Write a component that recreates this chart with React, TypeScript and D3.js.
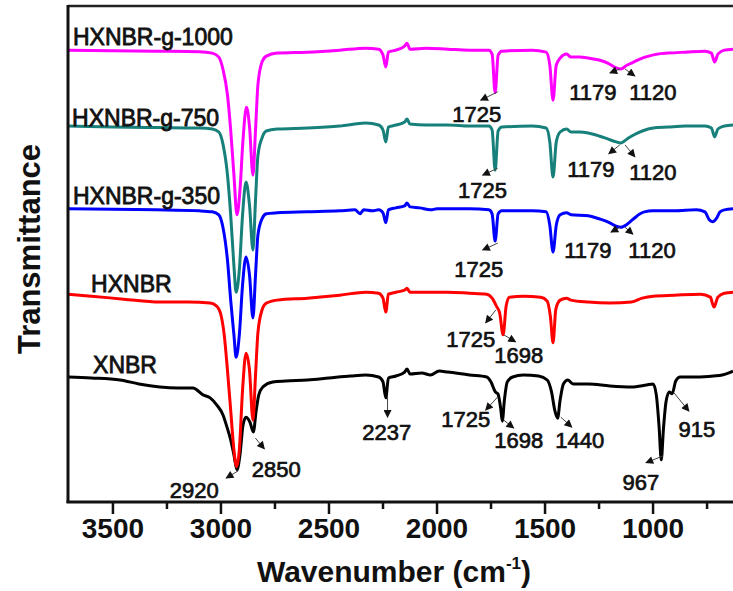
import React from 'react';
import * as d3 from 'd3';

type Pt = [number, number];

// spectra: [wavenumber (cm-1), transmittance (a.u., offset)]
const hxnbr1000: Pt[] = [
  [3708, 91.1], [3500, 91.0], [3300, 90.9], [3100, 90.8], [3040, 90.5], [3010, 89.7],
  [2990, 87.1], [2970, 82.1], [2955, 75.0], [2940, 65.9], [2926, 57.9], [2912, 62.9],
  [2898, 73.0], [2882, 79.6], [2868, 75.8], [2852, 65.9], [2840, 75.0], [2829, 84.1],
  [2810, 88.7], [2790, 89.9], [2740, 90.5], [2600, 90.7], [2450, 91.1], [2330, 91.5],
  [2270, 91.3], [2250, 90.1], [2237, 87.7], [2225, 90.7], [2190, 91.1], [2150, 91.9],
  [2139, 92.5], [2125, 91.3], [2050, 91.5], [1950, 91.3], [1850, 91.1], [1760, 91.1],
  [1745, 90.3], [1731, 82.5], [1717, 90.1], [1700, 90.9], [1560, 91.1], [1495, 90.7],
  [1478, 88.1], [1463, 81.0], [1448, 88.1], [1430, 89.5], [1400, 90.3], [1380, 89.7],
  [1340, 89.7], [1300, 89.5], [1250, 89.1], [1210, 88.5], [1170, 87.5], [1150, 87.3],
  [1120, 88.1], [1090, 88.7], [1050, 89.5], [1020, 89.9], [980, 90.3], [930, 90.5],
  [850, 90.7], [760, 90.9], [730, 90.5], [715, 88.7], [700, 90.3], [670, 91.1], [630, 91.3],
];

const hxnbr750: Pt[] = [
  [3708, 75.8], [3500, 75.6], [3300, 75.5], [3100, 75.4], [3040, 75.2], [3010, 74.6],
  [2990, 72.0], [2970, 66.0], [2955, 57.9], [2940, 47.6], [2930, 42.3], [2915, 46.8],
  [2900, 57.9], [2884, 64.5], [2868, 59.9], [2852, 50.8], [2840, 60.9], [2829, 69.8],
  [2810, 73.4], [2790, 74.8], [2740, 75.2], [2600, 75.4], [2450, 75.8], [2330, 76.4],
  [2270, 76.0], [2250, 75.0], [2237, 72.6], [2225, 75.6], [2190, 76.0], [2150, 76.6],
  [2139, 77.2], [2125, 76.2], [2050, 76.0], [1950, 76.0], [1850, 75.8], [1760, 75.8],
  [1745, 75.0], [1731, 66.9], [1717, 74.8], [1700, 75.6], [1560, 75.8], [1495, 75.4],
  [1478, 72.6], [1463, 65.5], [1448, 72.6], [1430, 74.6], [1400, 75.2], [1380, 74.6],
  [1340, 74.6], [1300, 74.4], [1250, 73.8], [1210, 73.2], [1170, 72.6], [1150, 72.4],
  [1120, 73.2], [1090, 74.0], [1050, 74.8], [1000, 75.4], [930, 75.6], [850, 75.8],
  [760, 75.8], [730, 75.4], [715, 73.6], [700, 75.2], [670, 75.8], [630, 76.0],
];

const hxnbr350: Pt[] = [
  [3708, 59.1], [3500, 59.0], [3300, 58.9], [3100, 58.7], [3040, 58.5], [3010, 57.9],
  [2990, 55.2], [2970, 48.8], [2955, 40.7], [2940, 33.7], [2930, 29.2], [2915, 33.7],
  [2900, 43.8], [2884, 49.4], [2868, 45.8], [2852, 37.1], [2840, 45.8], [2829, 53.8],
  [2810, 57.1], [2790, 58.1], [2740, 58.3], [2600, 58.5], [2450, 58.7], [2380, 58.9],
  [2356, 58.1], [2340, 58.9], [2300, 58.7], [2270, 58.9], [2250, 58.3], [2237, 56.3],
  [2225, 58.9], [2190, 59.3], [2150, 59.7], [2139, 60.3], [2125, 59.5], [2080, 59.3],
  [2030, 58.9], [2000, 59.1], [1850, 59.1], [1760, 58.9], [1745, 58.1], [1731, 52.6],
  [1717, 58.1], [1700, 58.7], [1560, 58.7], [1495, 58.5], [1478, 55.8], [1463, 50.4],
  [1448, 55.8], [1430, 57.9], [1400, 58.3], [1380, 57.9], [1300, 57.7], [1250, 57.1],
  [1210, 56.5], [1170, 55.6], [1150, 55.4], [1120, 56.0], [1090, 57.1], [1060, 58.1],
  [1040, 58.5], [1000, 58.7], [900, 58.7], [800, 58.9], [760, 58.5], [740, 56.9],
  [725, 56.5], [705, 57.3], [690, 58.5], [670, 58.9], [630, 59.1],
];

const hxnbr: Pt[] = [
  [3708, 41.9], [3600, 41.5], [3450, 40.9], [3283, 40.3], [3150, 40.3], [3050, 40.1],
  [3020, 39.5], [3000, 37.7], [2985, 33.7], [2970, 26.6], [2955, 18.5], [2940, 10.5],
  [2928, 7.1], [2915, 10.5], [2900, 22.6], [2884, 30.0], [2868, 26.6], [2852, 16.5],
  [2840, 25.6], [2829, 34.1], [2810, 38.7], [2790, 40.1], [2740, 40.7], [2600, 41.1],
  [2450, 41.7], [2330, 42.3], [2270, 42.1], [2250, 41.1], [2237, 38.3], [2225, 41.9],
  [2190, 42.3], [2150, 42.7], [2139, 43.1], [2125, 42.3], [2050, 42.3], [1950, 42.3],
  [1850, 42.1], [1770, 41.9], [1745, 41.1], [1725, 39.5], [1710, 38.1], [1694, 33.7],
  [1680, 39.5], [1665, 41.3], [1600, 41.5], [1520, 41.3], [1490, 40.5], [1475, 37.3],
  [1463, 32.1], [1450, 38.9], [1430, 40.7], [1400, 41.1], [1380, 40.7], [1300, 40.3],
  [1200, 40.1], [1100, 40.3], [1050, 41.1], [1000, 41.5], [900, 41.7], [780, 41.9],
  [735, 41.3], [718, 39.3], [700, 41.3], [670, 42.1], [630, 42.3],
];

const xnbr: Pt[] = [
  [3708, 25.2], [3600, 25.0], [3467, 24.6], [3380, 23.8], [3283, 23.2], [3200, 23.0],
  [3130, 23.0], [3083, 21.6], [3050, 21.0], [3020, 19.6], [2990, 17.5], [2975, 15.5],
  [2955, 12.5], [2940, 9.5], [2926, 6.5], [2912, 9.5], [2898, 15.5], [2884, 17.1],
  [2866, 16.1], [2850, 14.1], [2838, 18.1], [2825, 21.6], [2806, 23.2], [2760, 24.2],
  [2700, 24.4], [2600, 24.6], [2500, 25.0], [2400, 25.4], [2330, 25.6], [2270, 25.2],
  [2250, 24.2], [2237, 21.0], [2225, 25.0], [2190, 25.4], [2150, 26.2], [2139, 26.8],
  [2125, 25.8], [2070, 26.0], [2030, 25.6], [1990, 26.4], [1950, 26.2], [1850, 25.6],
  [1770, 25.2], [1750, 24.2], [1730, 22.2], [1718, 21.8], [1705, 18.8], [1698, 16.3],
  [1688, 20.6], [1675, 24.2], [1650, 25.2], [1600, 25.6], [1530, 25.4], [1490, 24.6],
  [1470, 22.2], [1455, 18.5], [1442, 16.9], [1430, 20.6], [1415, 23.8], [1395, 24.6],
  [1370, 23.8], [1300, 23.8], [1200, 23.4], [1100, 23.2], [1030, 23.6], [1000, 23.8],
  [985, 21.6], [972, 15.1], [962, 8.5], [952, 14.7], [940, 20.2], [925, 22.2],
  [912, 21.8], [895, 24.4], [875, 25.2], [800, 25.2], [720, 25.4], [680, 25.6],
  [640, 26.2], [630, 26.4],
];

// drawn bottom first so the upper spectra sit on top
const series = [xnbr, hxnbr, hxnbr350, hxnbr750, hxnbr1000];
const seriesNames = ['XNBR', 'HXNBR', 'HXNBR-g-350', 'HXNBR-g-750', 'HXNBR-g-1000'];
const seriesColors = ['#000000', '#ff0000', '#0000ff', '#17807a', '#ff00ff'];
// where each name sits, in data units [wavenumber, transmittance]
const nameAnchors: Pt[] = [[3592, 26.0], [3601, 42.3], [3685, 60.1], [3689, 75.8], [3685, 92.1]];

const majorTicks = [3500, 3000, 2500, 2000, 1500, 1000];
const minorTicks = [3250, 2750, 2250, 1750, 1250, 750];

// peak labels: text, arrow tail (on curve), arrow head, label position
const peakLabels: { text: string; tail: Pt; head: Pt; at: Pt }[] = [
  { text: '1725', tail: [1719, 82.7], head: [1798, 81.0], at: [1816, 76.6] },
  { text: '1179', tail: [1154, 87.3], head: [1200, 86.5], at: [1279, 81.0] },
  { text: '1120', tail: [1130, 87.3], head: [1084, 85.9], at: [1001, 81.0] },
  { text: '1725', tail: [1719, 67.3], head: [1789, 65.9], at: [1789, 61.3] },
  { text: '1179', tail: [1154, 72.0], head: [1205, 70.2], at: [1288, 65.5] },
  { text: '1120', tail: [1130, 72.0], head: [1084, 69.6], at: [1001, 64.9] },
  { text: '1725', tail: [1719, 52.2], head: [1789, 50.8], at: [1807, 45.4] },
  { text: '1179', tail: [1154, 55.4], head: [1195, 54.4], at: [1302, 49.2] },
  { text: '1120', tail: [1130, 55.4], head: [1093, 54.0], at: [1005, 49.2] },
  { text: '1725', tail: [1728, 38.7], head: [1775, 36.1], at: [1844, 31.3] },
  { text: '1698', tail: [1691, 33.7], head: [1636, 32.3], at: [1622, 28.0] },
  { text: '2237', tail: [2229, 21.4], head: [2229, 17.1], at: [2233, 12.5] },
  { text: '1725', tail: [1719, 21.2], head: [1775, 18.5], at: [1867, 15.1] },
  { text: '1698', tail: [1691, 16.5], head: [1645, 14.9], at: [1622, 10.9] },
  { text: '1440', tail: [1427, 17.1], head: [1376, 15.1], at: [1339, 10.9] },
  { text: '967', tail: [954, 9.3], head: [1033, 7.9], at: [1056, 2.4] },
  { text: '915', tail: [903, 22.0], head: [834, 18.3], at: [797, 13.1] },
  { text: '2920', tail: [2920, 6.3], head: [2976, 4.8], at: [3124, 0.8] },
  { text: '2850', tail: [2841, 12.9], head: [2799, 10.7], at: [2744, 5.0] },
];

const W = 733;
const H = 591;
const left = 68;
const top = 6;
const bottom = 502;
const font = 'Arial, "Liberation Sans", Helvetica, sans-serif';

export default function App() {
  const x = d3.scaleLinear().domain([3708, 630]).range([left, W]);
  const y = d3.scaleLinear().domain([0, 100]).range([bottom, top]);

  const line = d3
    .line<Pt>()
    .x((d) => x(d[0]))
    .y((d) => y(d[1]))
    .curve(d3.curveMonotoneX);

  return (
    <svg
      width={W}
      height={H}
      style={{ position: 'absolute', left: 0, top: 0, background: '#fff' }}
      fontFamily={font}
    >
      <defs>
        <marker id="head" viewBox="0 0 10 10" refX="9" refY="5" markerWidth="10" markerHeight="8"
          orient="auto" markerUnits="userSpaceOnUse">
          <path d="M0,0 L10,5 L0,10 z" fill="#111" />
        </marker>
      </defs>

      {/* spectra */}
      {series.map((s, i) => (
        <path key={seriesNames[i]} d={line(s) || ''} fill="none" stroke={seriesColors[i]}
          strokeWidth={3} strokeLinejoin="round" />
      ))}

      {/* series names */}
      {seriesNames.map((name, i) => (
        <text key={name} x={x(nameAnchors[i][0])} y={y(nameAnchors[i][1])} fontSize={23}
          fill="#111" stroke="#111" strokeWidth={0.8}>
          {name}
        </text>
      ))}

      {/* peak labels */}
      {peakLabels.map((p, i) => (
        <g key={i}>
          <line x1={x(p.tail[0])} y1={y(p.tail[1])} x2={x(p.head[0])} y2={y(p.head[1])}
            stroke="#444" strokeWidth={1} markerEnd="url(#head)" />
          <text x={x(p.at[0])} y={y(p.at[1])} textAnchor="middle" fontSize={22}
            fill="#111" stroke="#111" strokeWidth={0.7}>
            {p.text}
          </text>
        </g>
      ))}

      {/* frame */}
      <line x1={left} y1={top} x2={W} y2={top} stroke="#222" strokeWidth={2.5} />
      <line x1={left} y1={top - 1} x2={left} y2={bottom + 1} stroke="#111" strokeWidth={3} />
      <line x1={left - 1.5} y1={bottom} x2={W} y2={bottom} stroke="#111" strokeWidth={3} />

      {/* x axis ticks */}
      {majorTicks.map((t) => (
        <g key={t}>
          <line x1={x(t)} x2={x(t)} y1={bottom} y2={bottom + 12} stroke="#111" strokeWidth={2.5} />
          <text x={x(t)} y={538} textAnchor="middle" fontSize={28} fontWeight="bold" fill="#111">
            {t}
          </text>
        </g>
      ))}
      {minorTicks.map((t) => (
        <line key={t} x1={x(t)} x2={x(t)} y1={bottom} y2={bottom + 7} stroke="#111" strokeWidth={2.5} />
      ))}

      {/* axis titles */}
      <text x={394} y={582} textAnchor="middle" fontSize={30} fontWeight="bold" fill="#111">
        Wavenumber (cm
        <tspan fontSize={17} dy={-13}>-1</tspan>
        <tspan dy={13}>)</tspan>
      </text>
      <text transform="translate(40,249) rotate(-90)" textAnchor="middle" fontSize={31}
        fontWeight="bold" fill="#111">
        Transmittance
      </text>
    </svg>
  );
}
